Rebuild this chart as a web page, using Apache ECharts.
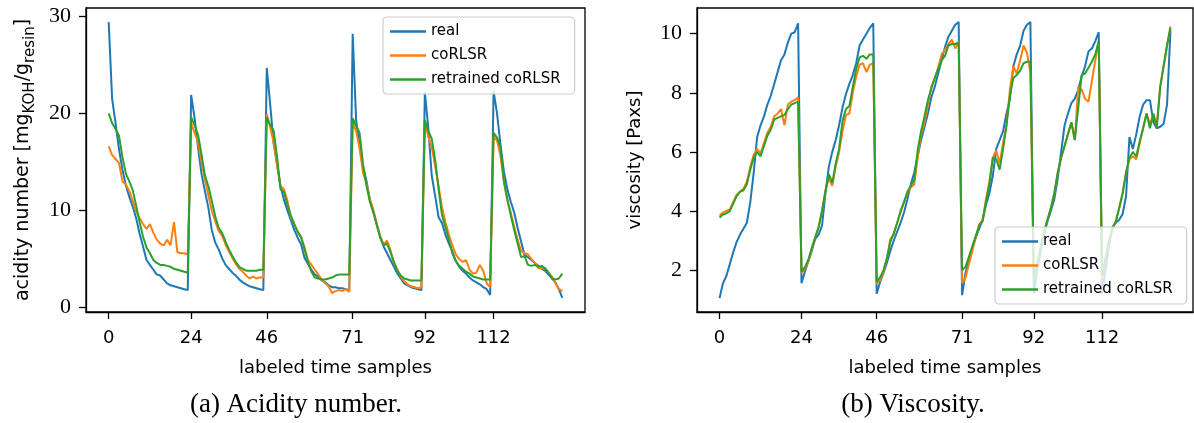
<!DOCTYPE html>
<html>
<head>
<meta charset="utf-8">
<title>coRLSR predictions</title>
<script src="https://cdn.jsdelivr.net/npm/echarts@6/dist/echarts.min.js"></script>
<style>
  html, body { margin: 0; padding: 0; background: #fff; }
  #chart { width: 1194px; height: 423px; }
</style>
</head>
<body>
<div id="chart"></div>
<script>
// sample index ticks (start of every batch)
const batchTicks = [0, 24, 46, 71, 92, 112]
const acidTicks = [0, 10, 20, 30]
const viscTicks = [2, 4, 6, 8, 10]
const seriesNames = ['real', 'coRLSR', 'retrained coRLSR']

// acidity number, one value per labeled sample (133)
const realAcid = [
  29.4, 21.5, 19.0, 16.3, 14.2, 12.6, 11.4, 10.4, 9.2, 7.6, 6.3, 4.9, 4.4, 3.9, 3.4, 3.3, 2.9, 2.5, 2.3, 2.2, 2.1, 2.0, 1.9, 1.8,
  21.9, 19.5, 16.5, 13.8, 12.0, 10.3, 8.0, 6.7, 6.0, 5.1, 4.4, 4.0, 3.6, 3.3, 2.9, 2.6, 2.4, 2.2, 2.1, 2.0, 1.9, 1.8,
  24.7, 20.9, 16.9, 14.7, 12.5, 11.1, 10.0, 9.0, 8.0, 7.2, 6.5, 5.1, 4.5, 3.9, 3.4, 3.2, 2.8, 2.6, 2.3, 2.1, 2.1, 2.0, 2.0, 1.9, 1.8,
  28.2, 19.3, 16.6, 14.5, 13.1, 11.1, 10.0, 8.6, 7.3, 6.3, 5.6, 4.9, 4.2, 3.5, 3.0, 2.5, 2.3, 2.1, 2.0, 1.9, 1.8,
  22.2, 18.5, 13.6, 11.5, 9.3, 8.7, 7.5, 6.6, 5.8, 4.8, 4.2, 3.8, 3.5, 3.1, 2.8, 2.6, 2.4, 2.1, 1.9, 1.3,
  22.3, 20.0, 16.8, 14.0, 12.2, 10.9, 9.8, 8.2, 6.8, 5.4, 5.2, 4.9, 4.6, 4.3, 4.0, 3.8, 3.4, 3.0, 2.6, 1.9, 1.0
]
const corlsrAcid = [
  16.6, 15.7, 15.3, 14.9, 13.0, 12.7, 12.0, 11.0, 9.9, 9.2, 8.6, 8.1, 8.6, 7.7, 7.0, 6.6, 6.4, 7.0, 6.4, 8.8, 5.7, 5.6, 5.6, 5.5,
  19.0, 18.0, 17.0, 15.0, 13.2, 11.6, 10.0, 8.9, 7.9, 7.4, 6.5, 5.8, 5.1, 4.5, 4.0, 3.7, 3.3, 3.0, 3.2, 3.0, 3.1, 3.1,
  19.9, 18.6, 17.0, 14.7, 12.5, 12.2, 11.0, 9.3, 8.6, 7.8, 7.3, 6.2, 4.9, 4.4, 3.9, 3.4, 2.9, 2.5, 2.2, 1.5, 1.7, 1.8, 1.7, 1.9, 1.6,
  19.0, 18.2, 16.4, 13.9, 12.8, 11.2, 10.0, 8.6, 7.4, 6.5, 6.9, 5.9, 4.6, 3.9, 3.2, 2.7, 2.4, 2.2, 2.1, 2.0, 2.1,
  19.0, 17.6, 16.5, 14.6, 12.5, 10.3, 8.8, 7.5, 6.4, 5.5, 5.0, 4.7, 4.9, 3.9, 3.5, 3.6, 4.4, 3.8, 2.5, 2.1,
  17.6, 17.2, 15.6, 13.0, 11.0, 9.8, 8.3, 7.0, 5.8, 5.6, 5.5, 5.0, 4.6, 4.1, 4.0, 4.1, 3.6, 3.2, 2.5, 1.9, 1.7
]
const retrainedAcid = [
  20.0, 19.0, 18.4, 17.7, 15.5, 13.8, 13.0, 12.1, 10.5, 8.8, 7.3, 6.2, 5.6, 4.9, 4.6, 4.4, 4.4, 4.3, 4.2, 4.0, 3.9, 3.8, 3.7, 3.6,
  19.6, 18.8, 17.8, 15.8, 13.6, 12.5, 11.0, 9.4, 8.2, 7.7, 6.8, 6.0, 5.3, 4.7, 4.2, 4.0, 3.8, 3.8, 3.8, 3.8, 3.9, 3.9,
  19.6, 18.8, 18.2, 15.5, 12.2, 11.9, 10.6, 9.5, 8.6, 7.8, 7.2, 6.0, 4.6, 3.7, 3.1, 3.0, 2.9, 2.9, 3.0, 3.1, 3.3, 3.4, 3.4, 3.4, 3.4,
  19.5, 18.7, 18.0, 14.8, 12.6, 10.9, 9.8, 8.5, 7.2, 6.4, 6.6, 5.7, 4.7, 3.8, 3.3, 3.0, 2.9, 2.8, 2.8, 2.8, 2.8,
  19.3, 18.2, 17.4, 15.2, 12.2, 9.5, 8.3, 7.0, 5.6, 4.8, 4.3, 4.0, 3.7, 3.5, 3.2, 3.1, 3.0, 2.9, 2.9, 2.9,
  18.0, 17.5, 16.5, 13.0, 11.2, 9.5, 8.0, 6.6, 5.2, 5.3, 4.4, 4.3, 4.4, 4.2, 4.3, 4.0, 3.6, 3.0, 2.9, 3.0, 3.5
]

// viscosity [Paxs]
const realVisc = [
  1.05, 1.55, 1.8, 2.2, 2.6, 2.95, 3.2, 3.4, 3.6, 4.3, 5.3, 6.5, 6.9, 7.2, 7.6, 7.9, 8.3, 8.7, 9.1, 9.3, 9.7, 10.0, 10.05, 10.35,
  1.55, 1.95, 2.3, 2.65, 3.05, 3.2, 3.5, 4.6, 5.5, 6.0, 6.4, 6.9, 7.5, 7.95, 8.3, 8.6, 9.0, 9.6, 9.8, 10.0, 10.2, 10.35,
  1.2, 1.6, 1.9, 2.25, 2.65, 3.0, 3.3, 3.6, 3.95, 4.4, 4.9, 5.3, 5.85, 6.4, 6.85, 7.3, 7.85, 8.2, 8.65, 9.1, 9.55, 9.9, 10.1, 10.3, 10.4,
  1.15, 1.9, 2.3, 2.75, 3.1, 3.4, 3.7, 4.2, 4.6, 5.2, 6.1, 6.4, 6.7, 7.3, 7.8, 8.9, 9.3, 9.6, 10.1, 10.3, 10.4,
  1.2, 2.0, 2.6, 3.2, 3.65, 4.0, 4.4, 5.1, 6.0, 6.9, 7.3, 7.65, 7.8, 8.1, 8.55, 8.9, 9.4, 9.5, 9.75, 10.05,
  1.2, 2.0, 2.8, 3.45, 3.6, 3.7, 3.9, 4.5, 6.5, 6.1, 6.6, 7.2, 7.6, 7.75, 7.75, 7.0, 6.8, 6.85, 6.95, 7.6, 10.1
]
const corlsrVisc = [
  3.85, 3.95, 4.0, 4.05, 4.3, 4.55, 4.65, 4.75, 5.0, 5.5, 5.9, 6.1, 5.95, 6.3, 6.65, 6.85, 7.2, 7.3, 7.45, 6.9, 7.6, 7.7, 7.75, 7.85,
  1.9, 2.05, 2.3, 2.7, 3.1, 3.45, 4.0, 4.7, 5.1, 4.85, 5.5, 6.0, 6.7, 7.25, 7.3, 8.0, 8.55, 8.95, 9.0, 8.7, 8.95, 9.0,
  1.55, 1.65, 1.95, 2.4, 3.05, 3.2, 3.6, 3.95, 4.3, 4.6, 4.8, 4.9, 5.8, 6.6, 7.0, 7.6, 8.2, 8.5, 8.85, 9.3, 9.45, 9.65, 9.8, 9.5, 9.75,
  1.55, 1.75, 2.2, 2.65, 3.1, 3.55, 3.7, 4.4, 5.0, 5.8, 6.05, 5.6, 6.3, 6.9, 8.1, 8.9, 8.65, 9.1, 9.6, 9.35, 8.7,
  1.7, 2.2, 2.8, 3.3, 3.7, 4.1, 4.6, 5.3, 5.8, 6.2, 6.6, 7.0, 6.4, 8.2, 8.1, 7.8, 7.7, 8.4, 9.1, 9.75,
  1.7, 2.4, 3.0, 3.4, 3.65, 4.1, 4.6, 5.3, 5.75, 5.85, 5.75, 6.3, 6.8, 7.3, 6.95, 7.25, 6.9, 8.2, 8.9, 9.6, 10.25
]
const retrainedVisc = [
  3.78, 3.88, 3.92, 4.0, 4.25, 4.5, 4.65, 4.7, 4.9, 5.4, 5.8, 6.0, 5.85, 6.2, 6.55, 6.75, 7.1, 7.15, 7.2, 7.25, 7.45, 7.6, 7.65, 7.7,
  1.95, 2.1, 2.35, 2.75, 3.1, 3.45, 4.0, 4.65, 5.25, 4.95, 5.6, 6.1, 7.05, 7.45, 7.55, 8.2, 8.8, 9.2, 9.25, 9.15, 9.3, 9.3,
  1.6, 1.75, 2.0, 2.4, 2.95, 3.25, 3.6, 4.0, 4.3, 4.65, 4.85, 5.05, 6.05, 6.7, 7.2, 7.75, 8.15, 8.5, 8.8, 9.1, 9.25, 9.6, 9.65, 9.65, 9.7,
  2.0, 2.1, 2.45, 2.8, 3.15, 3.5, 3.65, 4.3, 4.9, 5.8, 5.75, 5.4, 6.1, 6.9, 7.9, 8.5, 8.6, 8.75, 9.0, 9.05, 9.05,
  1.7, 2.2, 2.8, 3.3, 3.7, 4.1, 4.6, 5.3, 5.8, 6.2, 6.6, 7.0, 6.4, 7.5, 8.6, 8.65, 8.85, 9.05, 9.3, 9.75,
  1.8, 2.4, 3.0, 3.4, 3.65, 4.1, 4.6, 5.3, 5.8, 6.0, 5.85, 6.35, 6.8, 7.3, 6.8, 7.3, 6.8, 8.2, 8.9, 9.6, 10.2
]

const colors = ['#1f77b4', '#ff7f0e', '#2ca02c']
const sans = 'DejaVu Sans'
const serif = 'Liberation Serif'

const chart = echarts.init(document.getElementById('chart'))

function xAxisOf(gridIndex) {
  return {
    type: 'value',
    gridIndex: gridIndex,
    min: -6.6,
    max: 138.6,
    name: 'labeled time samples',
    nameLocation: 'middle',
    nameGap: 47,
    nameTextStyle: { fontFamily: sans, fontSize: 18, color: '#000' },
    axisLine: { show: true, onZero: false, lineStyle: { color: '#000', width: 1.3 } },
    axisTick: { show: true, length: 7, customValues: batchTicks, lineStyle: { color: '#000', width: 1.3 } },
    axisLabel: { customValues: batchTicks, margin: 17, fontFamily: sans, fontSize: 18, color: '#000' },
    splitLine: { show: false }
  }
}

function yAxisOf(gridIndex, min, max, ticks, name, nameGap, rich) {
  return {
    type: 'value',
    gridIndex: gridIndex,
    min: min,
    max: max,
    name: name,
    nameLocation: 'middle',
    nameRotate: 90,
    nameGap: nameGap,
    nameTextStyle: { fontFamily: sans, fontSize: 18, color: '#000', rich: rich },
    axisLine: { show: true, onZero: false, lineStyle: { color: '#000', width: 1.3 } },
    axisTick: { show: true, length: 7, customValues: ticks, lineStyle: { color: '#000', width: 1.3 } },
    axisLabel: { customValues: ticks, margin: 15, fontFamily: serif, fontSize: 22, color: '#000' },
    splitLine: { show: false }
  }
}

function linesOf(gridIndex, arrays) {
  return arrays.map((arr, k) => ({
    name: seriesNames[k],
    type: 'line',
    xAxisIndex: gridIndex,
    yAxisIndex: gridIndex,
    data: arr.map((v, i) => [i, v]),
    showSymbol: false,
    symbol: 'none',
    lineStyle: { width: 2, color: colors[k] },
    itemStyle: { color: colors[k] },
    emphasis: { disabled: true }
  }))
}

function legendAt(left, top) {
  return {
    data: seriesNames,
    orient: 'vertical',
    left: left,
    top: top,
    icon: 'rect',
    itemWidth: 36,
    itemHeight: 2.5,
    itemGap: 7,
    itemTextGap: 12,
    padding: [6, 14, 6, 7],
    backgroundColor: 'rgba(255,255,255,0.8)',
    borderColor: '#cccccc',
    borderWidth: 1.2,
    borderRadius: 4,
    selectedMode: false,
    textStyle: { fontFamily: sans, fontSize: 15, color: '#000', lineHeight: 17 }
  }
}

// subscripts in the acidity unit
const subRich = {
  n: { fontFamily: sans, fontSize: 19, color: '#000', lineHeight: 21, verticalAlign: 'top' },
  s: { fontFamily: sans, fontSize: 15, color: '#000', lineHeight: 16, padding: [9, 0, 0, 0], verticalAlign: 'top' }
}

const option = {
  animation: false,
  backgroundColor: '#fff',
  color: colors,
  grid: [
    { left: 86, top: 8, width: 499, height: 304, show: true, borderColor: '#000', borderWidth: 1.3, backgroundColor: 'transparent' },
    { left: 697, top: 8, width: 496, height: 304, show: true, borderColor: '#000', borderWidth: 1.3, backgroundColor: 'transparent' }
  ],
  xAxis: [xAxisOf(0), xAxisOf(1)],
  yAxis: [
    yAxisOf(0, -0.45, 30.85, acidTicks, '{n|acidity number [mg}{s|KOH}{n|/g}{s|resin}{n|]}', 51, subRich),
    yAxisOf(1, 0.58, 10.87, viscTicks, 'viscosity [Paxs]', 53, undefined)
  ],
  legend: [legendAt(383, 17), legendAt(995, 227)],
  graphic: [
    { type: 'text', x: 296, y: 405, style: { text: '(a) Acidity number.', align: 'center', verticalAlign: 'middle', fontFamily: serif, fontSize: 27, fill: '#000' } },
    { type: 'text', x: 913, y: 405, style: { text: '(b) Viscosity.', align: 'center', verticalAlign: 'middle', fontFamily: serif, fontSize: 27, fill: '#000' } }
  ],
  series: [
    ...linesOf(0, [realAcid, corlsrAcid, retrainedAcid]),
    ...linesOf(1, [realVisc, corlsrVisc, retrainedVisc])
  ]
}

chart.setOption(option)
</script>
</body>
</html>
